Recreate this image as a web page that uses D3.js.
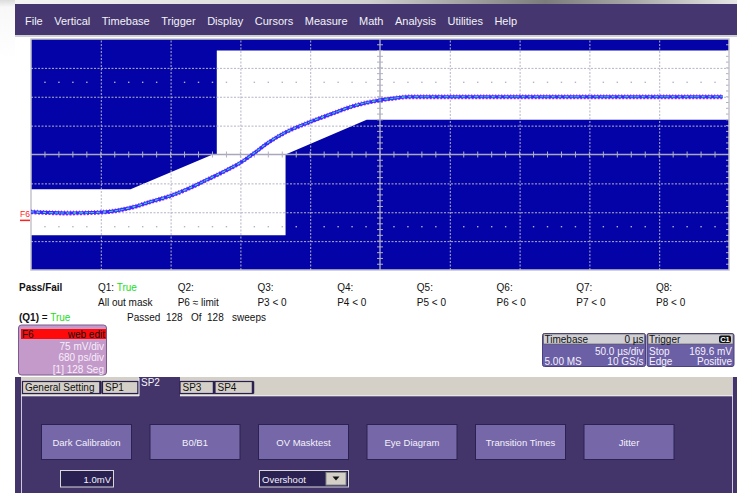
<!DOCTYPE html>
<html>
<head>
<meta charset="utf-8">
<script src="https://cdn.jsdelivr.net/npm/d3@7"></script>
<style>
    body { margin: 0; background: #fff; }
    svg text { font-family: "Liberation Sans", Arial, sans-serif; }
    .grid line { stroke: #b4b4c6; stroke-dasharray: 2, 1.5; stroke-width: 1; }
    .grid path { display: none; }
</style>
</head>
<body>
<svg id="scope" width="737" height="493"></svg>
<script>
// ---- data ----
const menuItems = ["File", "Vertical", "Timebase", "Trigger", "Display", "Cursors", "Measure", "Math", "Analysis", "Utilities", "Help"];

// mask outlines (ps, mV)
const upperMaskT = [-3400, 3400, 3400, -1590, -1590, -1630, -2430, -3400];
const upperMaskV = [300, 300, 270, 270, 0, 0, -90, -90];
const lowerMaskT = [-3400, -3400, -920, -920, -130, 3400, 3400];
const lowerMaskV = [-300, -210, -210, 0, 90, 90, -300];

// F6 trace (ps, mV)
const traceT = [-3400, -3050, -2730, -2600, -2400, -2240, -2040, -1880, -1690, -1490, -1360, -1230, -1100, -940, -680, -460, -260, -10, 100, 290, 800, 1500, 2200, 2900, 3340];
const traceV = [-149, -152, -150, -147, -136, -123, -107, -90, -66, -40, -21, 3, 29, 55, 85, 107, 126, 141, 145, 150, 150, 150, 150, 150, 150];

const qNames = ["Q1:", "Q2:", "Q3:", "Q4:", "Q5:", "Q6:", "Q7:", "Q8:"];
const qState = ["True", "", "", "", "", "", "", ""];
const qDesc = ["All out mask", "P6 \u2248 limit", "P3 < 0", "P4 < 0", "P5 < 0", "P6 < 0", "P7 < 0", "P8 < 0"];

const f6Lines = ["75 mV/div", "680 ps/div", "[1] 128 Seg"];
const timebaseRows = [["", "50.0 \u00b5s/div"], ["5.00 MS", "10 GS/s"]];
const triggerRows = [["Stop", "169.6 mV"], ["Edge", "Positive"]];

const tabLabels = ["General Setting", "SP1", "SP2", "SP3", "SP4"];
const activeTab = "SP2";
const buttonLabels = ["Dark Calibration", "B0/B1", "OV Masktest", "Eye Diagram", "Transition Times", "Jitter"];

const svg = d3.select("#scope");
const defs = svg.append("defs");

// ---- window chrome ----
let topGrad = defs.append("linearGradient").attr("id", "topGrad");
[[0, "#f6f6f6"], [0.5, "#d0d0d0"], [0.74, "#7c7c7c"], [0.86, "#a8a8a8"], [1, "#e6e6e6"]].forEach(s => {
    topGrad.append("stop").attr("offset", s[0]).attr("stop-color", s[1]);
});
svg.append("rect").attr("x", 0).attr("y", 0).attr("width", 737).attr("height", 4).attr("fill", "url(#topGrad)");

let leftGrad = defs.append("linearGradient").attr("id", "leftGrad").attr("x1", 0).attr("y1", 0).attr("x2", 0).attr("y2", 1);
leftGrad.append("stop").attr("offset", 0).attr("stop-color", "#dcdcdc");
leftGrad.append("stop").attr("offset", 0.12).attr("stop-color", "#f8f8f8");
leftGrad.append("stop").attr("offset", 1).attr("stop-color", "#ffffff");
svg.append("rect").attr("x", 0).attr("y", 0).attr("width", 15).attr("height", 60).attr("fill", "url(#leftGrad)");

svg.append("rect").attr("x", 15).attr("y", 4).attr("width", 722).attr("height", 31).attr("fill", "#45366f");
svg.append("rect").attr("x", 15).attr("y", 35).attr("width", 722).attr("height", 2).attr("fill", "#cfcfd6");

let mx = 25;
svg.append("g").selectAll("text")
    .data(menuItems).enter()
    .append("text")
    .attr("y", 24.5)
    .attr("fill", "#f2f2f8")
    .attr("font-size", 11)
    .text(d => d)
    .each(function() {
        d3.select(this).attr("x", mx);
        mx += this.getComputedTextLength() + 11.5;
    });

// ---- scope grid ----
const margin = { top: 39, left: 31 };
const width = 698, height = 231;

const xScale = d3.scaleLinear().domain([-3400, 3400]).range([margin.left, margin.left + width]);
const yScale = d3.scaleLinear().domain([-300, 300]).range([margin.top + height, margin.top]);

const plot = svg.append("g");

plot.append("rect")
    .attr("x", xScale(-3400)).attr("y", yScale(300))
    .attr("width", width).attr("height", height)
    .attr("fill", "#fff");

const area = d3.line().x(d => xScale(d[0])).y(d => yScale(d[1]));

plot.append("path")
    .attr("d", area(d3.zip(upperMaskT, upperMaskV)) + "Z")
    .attr("fill", "#0303a8");

plot.append("path")
    .attr("d", area(d3.zip(lowerMaskT, lowerMaskV)) + "Z")
    .attr("fill", "#0303a8");

const xMajor = d3.range(-2720, 2721, 680).filter(d => d !== 0);
const yMajor = d3.range(-225, 226, 75).filter(d => d !== 0);

plot.append("g")
    .attr("class", "grid")
    .attr("transform", `translate(0,${yScale(-300)})`)
    .call(d3.axisBottom(xScale).tickValues(xMajor).tickSize(-height).tickFormat(""));

plot.append("g")
    .attr("class", "grid")
    .attr("transform", `translate(${xScale(-3400)},0)`)
    .call(d3.axisLeft(yScale).tickValues(yMajor).tickSize(-width).tickFormat(""));

// centre cross with minor ticks
const xMinor = d3.range(-3400 + 136, 3400, 136);
const yMinor = d3.range(-300 + 15, 300, 15);

plot.append("line")
    .attr("x1", xScale(-3400)).attr("x2", xScale(3400))
    .attr("y1", yScale(0)).attr("y2", yScale(0))
    .attr("stroke", "#a8a8bc").attr("stroke-width", 1.4);

plot.append("line")
    .attr("x1", xScale(0)).attr("x2", xScale(0))
    .attr("y1", yScale(300)).attr("y2", yScale(-300))
    .attr("stroke", "#a8a8bc").attr("stroke-width", 1.4);

plot.append("g").selectAll("line")
    .data(xMinor).enter()
    .append("line")
    .attr("x1", d => xScale(d)).attr("x2", d => xScale(d))
    .attr("y1", yScale(0) - 3).attr("y2", yScale(0) + 3)
    .attr("stroke", "#b0b0c2").attr("stroke-width", 1);

plot.append("g").selectAll("line")
    .data(yMinor).enter()
    .append("line")
    .attr("x1", xScale(0) - 3).attr("x2", xScale(0) + 3)
    .attr("y1", d => yScale(d)).attr("y2", d => yScale(d))
    .attr("stroke", "#b0b0c2").attr("stroke-width", 1);

plot.append("g").selectAll("line")
    .data(yMinor).enter()
    .append("line")
    .attr("x1", xScale(3400) - 3).attr("x2", xScale(3400))
    .attr("y1", d => yScale(d)).attr("y2", d => yScale(d))
    .attr("stroke", "#b0b0c2").attr("stroke-width", 1);

// dotted rows at +/- 2.5 div
[187.5, -187.5].forEach(v => {
    plot.append("g").selectAll("rect")
        .data(xMinor.filter(d => d % 680 !== 0)).enter()
        .append("rect")
        .attr("x", d => xScale(d) - 0.7).attr("y", yScale(v) - 0.7)
        .attr("width", 1.4).attr("height", 1.4)
        .attr("fill", "#b4b4c6");
});

plot.append("rect")
    .attr("x", xScale(-3400)).attr("y", yScale(300))
    .attr("width", width).attr("height", height)
    .attr("fill", "none").attr("stroke", "#c4c4cc").attr("stroke-width", 1.5);

// ---- trace ----
const trace = d3.line()
    .x(d => xScale(d[0]))
    .y(d => yScale(d[1]))
    .curve(d3.curveMonotoneX);

const tracePts = d3.zip(traceT, traceV);

[[-1.6, "#b040ff", 1.6, "1,2"], [1.6, "#a030f0", 1.6, "2,1.5"]].forEach(s => {
    plot.append("path")
        .attr("d", trace(tracePts))
        .attr("transform", `translate(0,${s[0]})`)
        .attr("fill", "none").attr("stroke", s[1]).attr("stroke-width", s[2])
        .attr("stroke-dasharray", s[3]);
});

plot.append("path").attr("d", trace(tracePts))
    .attr("fill", "none").attr("stroke", "#3a2cff").attr("stroke-width", 3.2);

plot.append("path").attr("d", trace(tracePts))
    .attr("fill", "none").attr("stroke", "#38c4ee").attr("stroke-width", 1.2)
    .attr("stroke-dasharray", "3,3");

plot.append("path").attr("d", trace(tracePts))
    .attr("fill", "none").attr("stroke", "#66e070").attr("stroke-width", 1)
    .attr("stroke-dasharray", "1.5,6").attr("stroke-dashoffset", 2);

// F6 ground marker
svg.append("text")
    .attr("x", 20).attr("y", yScale(traceV[0]) + 5)
    .attr("fill", "#ff2020").attr("font-size", 8.5)
    .text("F6");
svg.append("line")
    .attr("x1", 20).attr("x2", 30)
    .attr("y1", yScale(traceV[0]) + 8.5).attr("y2", yScale(traceV[0]) + 8.5)
    .attr("stroke", "#ff2020").attr("stroke-width", 1.5);

// ---- pass / fail table ----
const colX = d3.scaleLinear().domain([0, 7]).range([98, 656]);
const pf = svg.append("g").attr("font-size", 10).attr("fill", "#111");

pf.append("text").attr("x", 19).attr("y", 291).attr("font-weight", "bold").text("Pass/Fail");

let q = pf.selectAll(".q").data(qNames).enter().append("text")
    .attr("class", "q")
    .attr("x", (d, i) => colX(i)).attr("y", 291);
q.append("tspan").text(d => d);
q.append("tspan").attr("fill", "#22dd22").text((d, i) => qState[i] ? " " + qState[i] : "");

pf.selectAll(".qd").data(qDesc).enter().append("text")
    .attr("class", "qd")
    .attr("x", (d, i) => colX(i)).attr("y", 306)
    .text(d => d);

let q1 = pf.append("text").attr("x", 19).attr("y", 321);
q1.append("tspan").attr("font-weight", "bold").text("(Q1)");
q1.append("tspan").text(" = ");
q1.append("tspan").attr("fill", "#22dd22").text("True");
pf.append("text").attr("x", 127).attr("y", 321).attr("xml:space", "preserve")
    .text("Passed  128   Of  128   sweeps");

// ---- F6 descriptor box ----
const f6 = svg.append("g").attr("font-size", 10);
f6.append("rect").attr("x", 18.5).attr("y", 325).attr("width", 88).attr("height", 50).attr("rx", 3)
    .attr("fill", "#c49acb").attr("stroke", "#7c5a8e").attr("stroke-width", 1);
f6.append("rect").attr("x", 21).attr("y", 329).attr("width", 85).attr("height", 10).attr("fill", "#ff0a0a");
f6.append("text").attr("x", 22).attr("y", 337.5).attr("fill", "#111").text("F6");
f6.append("text").attr("x", 105).attr("y", 337.5).attr("text-anchor", "end").attr("fill", "#111").text("web edit");
f6.selectAll(".f6l").data(f6Lines).enter().append("text")
    .attr("x", 104).attr("y", (d, i) => 349.5 + i * 11.5)
    .attr("text-anchor", "end").attr("fill", "#f6eef8")
    .text(d => d);

// ---- timebase / trigger boxes ----
function infoBox(x0, w, title, right, rows, badge) {
    let g = svg.append("g").attr("font-size", 10);
    g.append("rect").attr("x", x0).attr("y", 333.5).attr("width", w).attr("height", 33).attr("rx", 2)
        .attr("fill", "#6b5fa6").attr("stroke", "#4a3f80");
    g.append("rect").attr("x", x0 + 1).attr("y", 334).attr("width", w - 2).attr("height", 10)
        .attr("fill", "#cfcfd4").attr("stroke", "#555").attr("stroke-width", 0.6);
    g.append("text").attr("x", x0 + 2).attr("y", 342.5).attr("fill", "#111").text(title);
    if (badge) {
        g.append("rect").attr("x", x0 + w - 15).attr("y", 335.5).attr("width", 12).attr("height", 7.5).attr("rx", 2).attr("fill", "#111");
        g.append("text").attr("x", x0 + w - 9).attr("y", 342).attr("text-anchor", "middle")
            .attr("font-size", 7.5).attr("font-weight", "bold").attr("fill", "#fff").text(badge);
    } else {
        g.append("text").attr("x", x0 + w - 2).attr("y", 342.5).attr("text-anchor", "end").attr("fill", "#111").text(right);
    }
    rows.forEach((r, i) => {
        g.append("text").attr("x", x0 + 2).attr("y", 355 + i * 10).attr("fill", "#f4f2fb").text(r[0]);
        g.append("text").attr("x", x0 + w - 2).attr("y", 355 + i * 10).attr("text-anchor", "end").attr("fill", "#f4f2fb").text(r[1]);
    });
}
infoBox(542.5, 103, "Timebase", "0 \u00b5s", timebaseRows, null);
infoBox(647, 87, "Trigger", "", triggerRows, "C1");

// ---- bottom control panel ----
const panel = svg.append("g").attr("font-size", 10);
panel.append("rect").attr("x", 15).attr("y", 377).attr("width", 722).attr("height", 116).attr("fill", "#433469");
panel.append("rect").attr("x", 21).attr("y", 377).attr("width", 712).attr("height", 19).attr("fill", "#d4d0c8");
panel.append("line").attr("x1", 21.5).attr("x2", 21.5).attr("y1", 396).attr("y2", 493).attr("stroke", "#cfcadb");
panel.append("line").attr("x1", 732.5).attr("x2", 732.5).attr("y1", 377).attr("y2", 493).attr("stroke", "#cfcadb");
panel.append("line").attr("x1", 21).attr("x2", 733).attr("y1", 395.8).attr("y2", 395.8).attr("stroke", "#f2f0f6");

const tabX = d3.scaleOrdinal().domain(tabLabels).range([22.5, 102.5, 139, 180, 215]);
const tabW = d3.scaleOrdinal().domain(tabLabels).range([78, 36, 41, 34, 38]);

tabLabels.forEach(t => {
    let x0 = tabX(t), w = tabW(t);
    if (t === activeTab) {
        panel.append("rect").attr("x", x0).attr("y", 377).attr("width", w).attr("height", 20).attr("fill", "#433469");
        panel.append("line").attr("x1", x0).attr("x2", x0).attr("y1", 378).attr("y2", 396).attr("stroke", "#f2f0f6");
        panel.append("text").attr("x", x0 + 2).attr("y", 386).attr("fill", "#f4f2fb").text(t);
    } else {
        panel.append("rect").attr("x", x0).attr("y", 381.5).attr("width", w).attr("height", 12)
            .attr("fill", "#d4d0c8").attr("stroke", "#2a2050").attr("stroke-width", 1.2);
        panel.append("line").attr("x1", x0 + w).attr("x2", x0 + w).attr("y1", 381.5).attr("y2", 393.5)
            .attr("stroke", "#2a2050").attr("stroke-width", 2.5);
        panel.append("text").attr("x", x0 + 2.5).attr("y", 391).attr("fill", "#111").text(t);
    }
});

const btnX = d3.scaleLinear().domain([0, 5]).range([41.5, 584]);
let btn = panel.selectAll(".btn").data(buttonLabels).enter().append("g").attr("class", "btn");
btn.append("rect")
    .attr("x", (d, i) => btnX(i)).attr("y", 424.5).attr("width", 90).attr("height", 35)
    .attr("fill", "#7567a8").attr("stroke", "#2a2250").attr("stroke-width", 1);
btn.append("text")
    .attr("x", (d, i) => btnX(i) + 45).attr("y", 445.5)
    .attr("text-anchor", "middle").attr("font-size", 9.5).attr("fill", "#f4f2fb")
    .text(d => d);

// value field
panel.append("rect").attr("x", 60.5).attr("y", 470.5).attr("width", 53).attr("height", 16.5)
    .attr("fill", "#2a2152").attr("stroke", "#d8d8d8");
panel.append("text").attr("x", 111).attr("y", 482.5).attr("text-anchor", "end").attr("font-size", 9.5)
    .attr("fill", "#f4f2fb").text("1.0mV");

// dropdown
panel.append("rect").attr("x", 259.5).attr("y", 470.5).attr("width", 89).attr("height", 16.5)
    .attr("fill", "#2a2152").attr("stroke", "#d8d8d8");
panel.append("text").attr("x", 262).attr("y", 482.5).attr("font-size", 9.5)
    .attr("fill", "#f4f2fb").text("Overshoot");
panel.append("rect").attr("x", 326).attr("y", 472.5).attr("width", 20).attr("height", 12.5)
    .attr("fill", "#d4d0c8").attr("stroke", "#888");
panel.append("path").attr("d", "M332.5,476.5 L339.5,476.5 L336,480.5 Z").attr("fill", "#111");
</script>
</body>
</html>
